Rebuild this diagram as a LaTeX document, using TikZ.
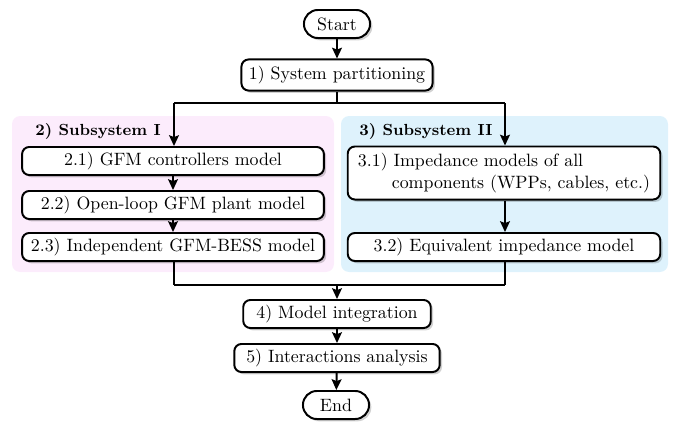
\documentclass[tikz,border=0pt]{standalone}
\usetikzlibrary{arrows.meta,shadows,positioning}
\definecolor{pinkbg}{RGB}{252,236,252}
\definecolor{bluebg}{RGB}{222,242,252}
\tikzset{
  box/.style={draw, line width=1.1pt, rounded corners=4pt, fill=white, inner sep=1pt,
    drop shadow={shadow xshift=1.3pt, shadow yshift=-1.3pt, opacity=0.18, fill=black}},
  term/.style={box, rounded corners=7.8pt},
  arr/.style={line width=1.1pt, -{Stealth[length=6pt,width=5.5pt,inset=1pt]}},
  ln/.style={line width=1.1pt},
  hdr/.style={font=\small\bfseries, anchor=west, inner sep=0pt}
}
\begin{document}
\begin{tikzpicture}[x=0.56pt,y=-0.56pt]
\useasboundingbox (0,0) rectangle (675,426);
% regions
\fill[pinkbg, rounded corners=4.5pt] (12,116) rectangle (334,272);
\fill[bluebg, rounded corners=4.5pt] (341,116) rectangle (668,272);
\node[hdr] (h1) at (35,131) {2) Subsystem I};
\node[hdr] (h2) at (359,131) {3) Subsystem II};
% nodes
\node[term, minimum width=37pt, minimum height=15.7pt] (start) at (337,24) {Start};
\node[box, minimum width=107pt, minimum height=17.4pt] (s1) at (337,75) {1) System partitioning};
\node[box, minimum width=169pt, minimum height=15.7pt] (s21) at (173,161) {2.1) GFM controllers model};
\node[box, minimum width=169pt, minimum height=15.7pt] (s22) at (173,205) {2.2) Open-loop GFM plant model};
\node[box, minimum width=169pt, minimum height=15.7pt] (s23) at (173,247) {2.3) Independent GFM-BESS model};
\node[box, minimum width=175pt, minimum height=29.7pt, align=left] (s31) at (504,173)
  {3.1) Impedance models of all\\\hspace*{1.9em}components (WPPs, cables, etc.)};
\node[box, minimum width=175pt, minimum height=15.7pt] (s32) at (504,247) {3.2) Equivalent impedance model};
\node[box, minimum width=105pt, minimum height=15.7pt] (s4) at (337,314) {4) Model integration};
\node[box, minimum width=115pt, minimum height=15.7pt] (s5) at (337,358) {5) Interactions analysis};
\node[term, minimum width=37pt, minimum height=15.7pt] (end) at (336,405) {End};
% junction coordinates
\coordinate (j1) at (337,103);
\coordinate (j1l) at (174,103);
\coordinate (j1r) at (505,103);
\coordinate (j2) at (337,285);
\coordinate (j2l) at (174,285);
\coordinate (j2r) at (505,285);
% connectors
\draw[arr] (start) -- (s1);
\draw[ln] (s1.south) -- (j1);
\draw[ln] (j1l) -- (j1r);
\draw[arr] (j1l) -- (j1l |- s21.north);
\draw[arr] (j1r) -- (j1r |- s31.north);
\draw[arr] (s21) -- (s22);
\draw[arr] (s22) -- (s23);
\draw[arr] (s31.south -| j1r) -- (s32.north -| j1r);
\draw[ln] (s23.south -| j2l) -- (j2l);
\draw[ln] (s32.south -| j2r) -- (j2r);
\draw[ln] (j2l) -- (j2r);
\draw[arr] (j2) -- (s4);
\draw[arr] (s4) -- (s5);
\draw[arr] (s5) -- (end);
\end{tikzpicture}
\end{document}
